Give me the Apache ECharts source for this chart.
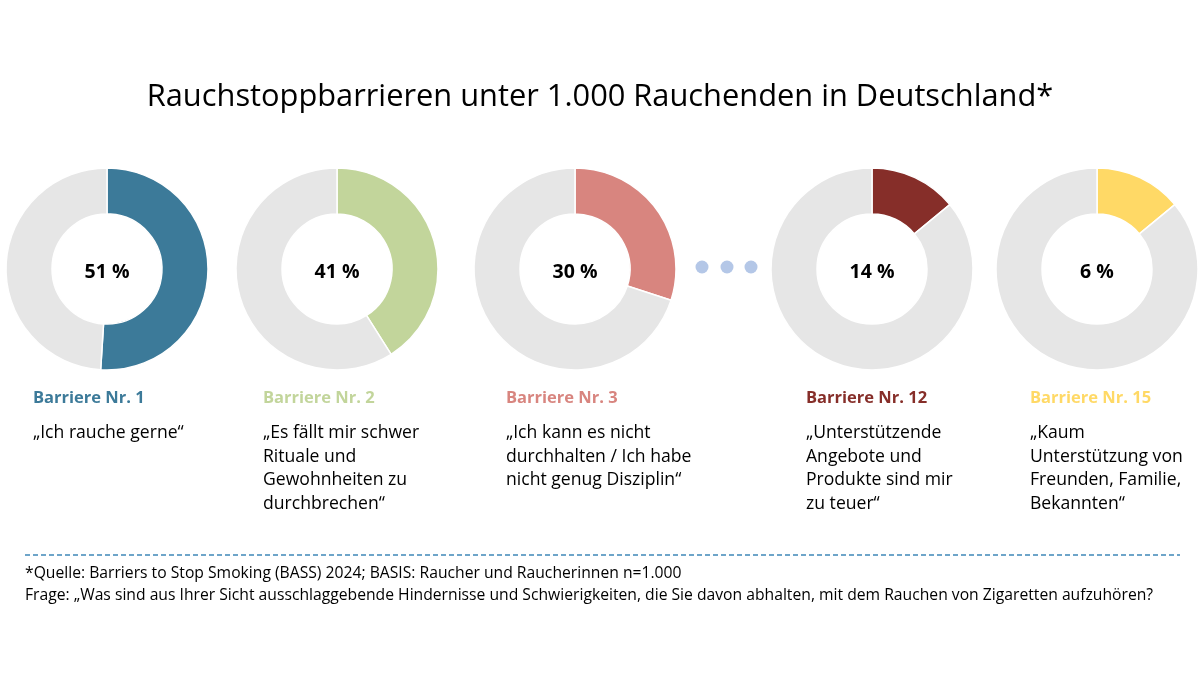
<!DOCTYPE html>
<html>
<head>
<meta charset="utf-8">
<script src="https://cdn.jsdelivr.net/npm/echarts@6/dist/echarts.min.js"></script>
<style>html,body{margin:0;padding:0;background:#fff}#c{width:1200px;height:674px}</style>
</head>
<body>
<div id="c"></div>
<script>
// ---- data ----
const titleText = 'Rauchstoppbarrieren unter 1.000 Rauchenden in Deutschland*';
const barrierNames = ['Barriere Nr. 1', 'Barriere Nr. 2', 'Barriere Nr. 3', 'Barriere Nr. 12', 'Barriere Nr. 15'];
const percentLabels = ['51 %', '41 %', '30 %', '14 %', '6 %'];
// slice shares as drawn in the picture (the last ring is drawn at ~14 % although labelled 6 %)
const sliceShares = [51, 41, 30, 14, 14];
const quotes = [
  ['„Ich rauche gerne“'],
  ['„Es fällt mir schwer', 'Rituale und', 'Gewohnheiten zu', 'durchbrechen“'],
  ['„Ich kann es nicht', 'durchhalten / Ich habe', 'nicht genug Disziplin“'],
  ['„Unterstützende', 'Angebote und', 'Produkte sind mir', 'zu teuer“'],
  ['„Kaum', 'Unterstützung von', 'Freunden, Familie,', 'Bekannten“']
];
const footnotes = [
  '*Quelle: Barriers to Stop Smoking (BASS) 2024; BASIS: Raucher und Raucherinnen n=1.000',
  'Frage: „Was sind aus Ihrer Sicht ausschlaggebende Hindernisse und Schwierigkeiten, die Sie davon abhalten, mit dem Rauchen von Zigaretten aufzuhören?'
];

// ---- style ----
const colors = ['#3c7a99', '#c2d59b', '#d8857f', '#862e29', '#ffd966'];
const grey = '#e6e6e6';
const centersX = [107, 337, 575, 872, 1097];
const centerY = 269;
const textX = [33, 263, 506, 806, 1030];
const FONT = '"Open Sans", "Noto Sans", sans-serif';

const series = sliceShares.map((v, i) => ({
  type: 'pie',
  center: [centersX[i], centerY],
  radius: [55, 101],
  startAngle: 90,
  clockwise: true,
  silent: true,
  animation: false,
  itemStyle: { borderColor: '#fff', borderWidth: 1.5 },
  label: { show: false },
  labelLine: { show: false },
  data: [
    { value: v, itemStyle: { color: colors[i] },
      label: { show: true, position: 'center', formatter: percentLabels[i], offset: [0, 3],
               fontFamily: FONT, fontWeight: 'bold', fontSize: 19.5, color: '#000' } },
    { value: 100 - v, itemStyle: { color: grey } }
  ]
}));

const graphics = [];
graphics.push({ type: 'text', x: 600, y: 97,
  style: { text: titleText, font: '30.8px ' + FONT, fill: '#000', align: 'center', verticalAlign: 'middle' } });
// dots
[702, 727, 751].forEach(x => graphics.push({ type: 'circle', shape: { cx: x, cy: 267, r: 6.5 }, style: { fill: '#b4c7e7' } }));
barrierNames.forEach((n, i) => {
  graphics.push({ type: 'text', x: textX[i], y: 398,
    style: { text: n, font: 'bold 16.5px ' + FONT, fill: colors[i], verticalAlign: 'middle' } });
  quotes[i].forEach((line, j) => graphics.push({ type: 'text', x: textX[i], y: 433 + j * 23.5,
    style: { text: line, font: '17.6px ' + FONT, fill: '#000', verticalAlign: 'middle' } }));
});
graphics.push({ type: 'line', shape: { x1: 25, y1: 555, x2: 1180, y2: 555 },
  style: { stroke: '#3f88b8', lineWidth: 1.3, lineDash: [5, 3] } });
footnotes.forEach((t, j) => graphics.push({ type: 'text', x: 25, y: 574 + j * 22,
  style: { text: t, font: '15.7px ' + FONT, fill: '#000', verticalAlign: 'middle' } }));

const chart = echarts.init(document.getElementById('c'));
chart.setOption({ animation: false, backgroundColor: '#fff', series, graphic: graphics });
</script>
</body>
</html>
